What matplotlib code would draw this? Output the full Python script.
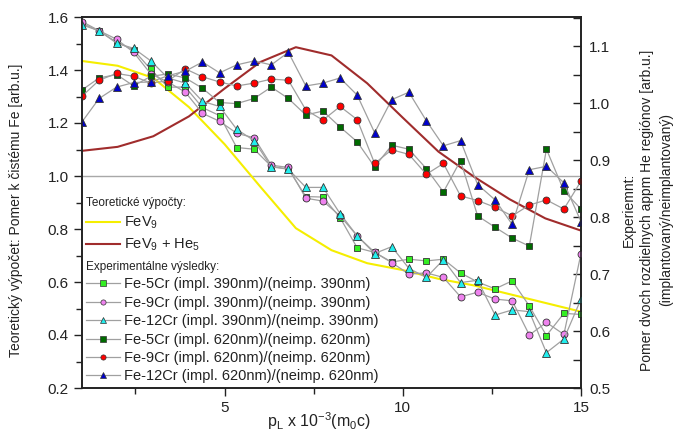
import matplotlib
matplotlib.use('Agg')
import matplotlib.pyplot as plt
from matplotlib.lines import Line2D
from matplotlib.ticker import MultipleLocator, FormatStrFormatter

plt.rcParams['font.family'] = ['Liberation Sans', 'DejaVu Sans']
plt.rcParams['mathtext.fontset'] = 'custom'
plt.rcParams['mathtext.rm'] = 'Liberation Sans'
plt.rcParams['mathtext.it'] = 'Liberation Sans:italic'
plt.rcParams['mathtext.bf'] = 'Liberation Sans:bold'
plt.rcParams['text.color'] = '#222222'
plt.rcParams['axes.labelcolor'] = '#222222'
plt.rcParams['xtick.color'] = '#222222'
plt.rcParams['ytick.color'] = '#222222'

# ---------------- data ----------------
# theoretical calculations (left axis)
x_theory = [1, 2, 3, 4, 5, 6, 7, 8, 9, 10, 11, 12, 13, 14, 15]
fev9 = [1.434, 1.416, 1.370, 1.260, 1.120, 0.960, 0.803, 0.720, 0.671,
        0.645, 0.612, 0.587, 0.554, 0.521, 0.488]
fev9_he5 = [1.095, 1.110, 1.150, 1.225, 1.330, 1.430, 1.486, 1.455, 1.350,
            1.220, 1.092, 0.997, 0.912, 0.840, 0.794]

# experimental results (right axis)
x_exp = [1.00, 1.48, 1.97, 2.45, 2.93, 3.41, 3.90, 4.38, 4.86, 5.34,
         5.83, 6.31, 6.79, 7.28, 7.76, 8.24, 8.72, 9.21, 9.69, 10.17,
         10.66, 11.14, 11.62, 12.10, 12.59, 13.07, 13.55, 14.03, 14.52, 15.00]

fe5cr_390 = [1.140, 1.126, 1.107, 1.093, 1.059, 1.028, 1.028, 0.992, 0.978, 0.922,
             0.919, 0.889, 0.884, 0.836, 0.835, 0.799, 0.746, 0.738, 0.721, 0.726,
             0.723, 0.726, 0.702, 0.686, 0.674, 0.688, 0.644, 0.592, 0.631, 0.629]
fe9cr_390 = [1.143, 1.127, 1.112, 1.089, 1.051, 1.037, 1.019, 0.982, 0.968, 0.947,
             0.939, 0.891, 0.887, 0.833, 0.828, 0.802, 0.767, 0.738, 0.720, 0.700,
             0.702, 0.694, 0.660, 0.668, 0.656, 0.653, 0.593, 0.615, 0.594, 0.736]
fe12cr_390 = [1.137, 1.127, 1.105, 1.096, 1.074, 1.044, 1.035, 1.003, 0.994, 0.954,
              0.934, 0.888, 0.884, 0.852, 0.852, 0.806, 0.767, 0.736, 0.748, 0.710,
              0.694, 0.725, 0.685, 0.689, 0.628, 0.637, 0.634, 0.562, 0.586, 0.656]
fe5cr_620 = [1.023, 1.044, 1.050, 1.030, 1.047, 1.051, 1.044, 1.026, 1.001, 0.999,
             1.008, 1.028, 1.008, 0.979, 0.986, 0.958, 0.932, 0.888, 0.926, 0.919,
             0.885, 0.844, 0.899, 0.802, 0.782, 0.763, 0.749, 0.919, 0.846, 0.814]
fe9cr_620 = [1.012, 1.040, 1.052, 1.047, 1.035, 1.039, 1.060, 1.046, 1.037, 1.030,
             1.035, 1.042, 1.040, 0.988, 0.970, 0.994, 0.971, 0.894, 0.918, 0.910,
             0.875, 0.894, 0.837, 0.829, 0.817, 0.802, 0.821, 0.830, 0.814, 0.863]
fe12cr_620 = [0.967, 1.008, 1.028, 1.036, 1.037, 1.048, 1.056, 1.072, 1.053, 1.067,
              1.074, 1.067, 1.089, 1.030, 1.035, 1.044, 1.014, 0.948, 1.006, 1.019,
              0.969, 0.925, 0.934, 0.857, 0.830, 0.787, 0.883, 0.889, 0.860, 0.792]

exp_labels = ['Fe-5Cr (impl. 390nm)/(neimp. 390nm)',
              'Fe-9Cr (impl. 390nm)/(neimp. 390nm)',
              'Fe-12Cr (impl. 390nm)/(neimp. 390nm)',
              'Fe-5Cr (impl. 620nm)/(neimp. 620nm)',
              'Fe-9Cr (impl. 620nm)/(neimp. 620nm)',
              'Fe-12Cr (impl. 620nm)/(neimp. 620nm)']
exp_data = [fe5cr_390, fe9cr_390, fe12cr_390, fe5cr_620, fe9cr_620, fe12cr_620]
exp_markers = ['s', 'o', '^', 's', 'o', '^']
exp_colors = ['#33ee22', '#ee82ee', '#22eeee', '#006a00', '#ff0000', '#0000cc']

# ---------------- figure ----------------
fig = plt.figure(figsize=(6.73, 4.33), dpi=100)
ax = fig.add_axes([82 / 673, 1 - 388 / 433, 499 / 673, 371 / 433])
ax2 = ax.twinx()

ax.axhline(1.0, color='#a8a8a8', lw=1.0, zorder=1)
l1, = ax.plot(x_theory, fev9, color='#f5ee00', lw=1.5, label='FeV$_9$')
l2, = ax.plot(x_theory, fev9_he5, color='#a02c2c', lw=1.5, label='FeV$_9$ + He$_5$')

handles = []
for y, m, c, lab in zip(exp_data, exp_markers, exp_colors, exp_labels):
    ms = 6.0 if m == '^' else 5.0
    ax2.plot(x_exp, y, color='#a0a0a0', lw=0.9, marker=m, ms=ms, mfc=c,
             mec='#333333', mew=0.6)
    handles.append(Line2D([], [], color='#a0a0a0', lw=0.9, marker=m,
                          ms=ms * 0.75, mfc=c, mec='#333333', mew=0.5, label=lab))

ax.set_xlim(1, 15)
ax.set_ylim(0.2, 1.6)
ax2.set_ylim(0.5, 1.151)

ax.xaxis.set_major_locator(MultipleLocator(5))
ax.xaxis.set_minor_locator(MultipleLocator(2.5))
ax.yaxis.set_major_locator(MultipleLocator(0.2))
ax.yaxis.set_minor_locator(MultipleLocator(0.1))
ax.yaxis.set_major_formatter(FormatStrFormatter('%.1f'))
ax2.yaxis.set_major_locator(MultipleLocator(0.1))
ax2.yaxis.set_minor_locator(MultipleLocator(0.05))
ax2.yaxis.set_major_formatter(FormatStrFormatter('%.1f'))

ax.tick_params(which='both', direction='out', top=False, labelsize=11, width=1.0)
ax.tick_params(which='major', length=6)
ax.tick_params(which='minor', length=4)
ax2.tick_params(which='both', direction='in', labelsize=11, width=1.0, pad=6)
ax2.tick_params(which='major', length=6)
ax2.tick_params(which='minor', length=6)

for a in (ax, ax2):
    for s in a.spines.values():
        s.set_linewidth(1.2)
        s.set_color('#222222')

ax.set_xlabel('p$_\\mathrm{L}$ x 10$^{-3}$(m$_0$c)', fontsize=11.5)
ax.xaxis.set_label_coords(0.475, -0.06)
ax.set_ylabel('Teoretický výpočet: Pomer k čistému Fe [arb.u.]', fontsize=10)
ax.yaxis.set_label_coords(-0.118, 0.48)
ax2.set_ylabel('Experiemnt:\nPomer dvoch rozdielnych appm He regiónov [arb.u.]\n(implantovaný/neimplantovaný)',
               fontsize=10, linespacing=1.4)
ax2.yaxis.set_label_coords(1.082, 0.48)

leg1 = ax2.legend(handles=[l1, l2], title='Teoretické výpočty:', loc='upper left',
                  bbox_to_anchor=(0.008, 0.515), frameon=False, fontsize=10.5,
                  title_fontsize=8.5, handlelength=2.3, handletextpad=0.3,
                  labelspacing=0.4, borderpad=0, borderaxespad=0, alignment='left')
ax2.add_artist(leg1)
leg2 = ax2.legend(handles=handles, title='Experimentálne výsledky:', loc='upper left',
                  bbox_to_anchor=(0.008, 0.342), frameon=False, fontsize=10.5,
                  title_fontsize=8.5, handlelength=2.3, handletextpad=0.3,
                  labelspacing=0.3, borderpad=0, borderaxespad=0, alignment='left')

fig.savefig('out.png', dpi=100)
